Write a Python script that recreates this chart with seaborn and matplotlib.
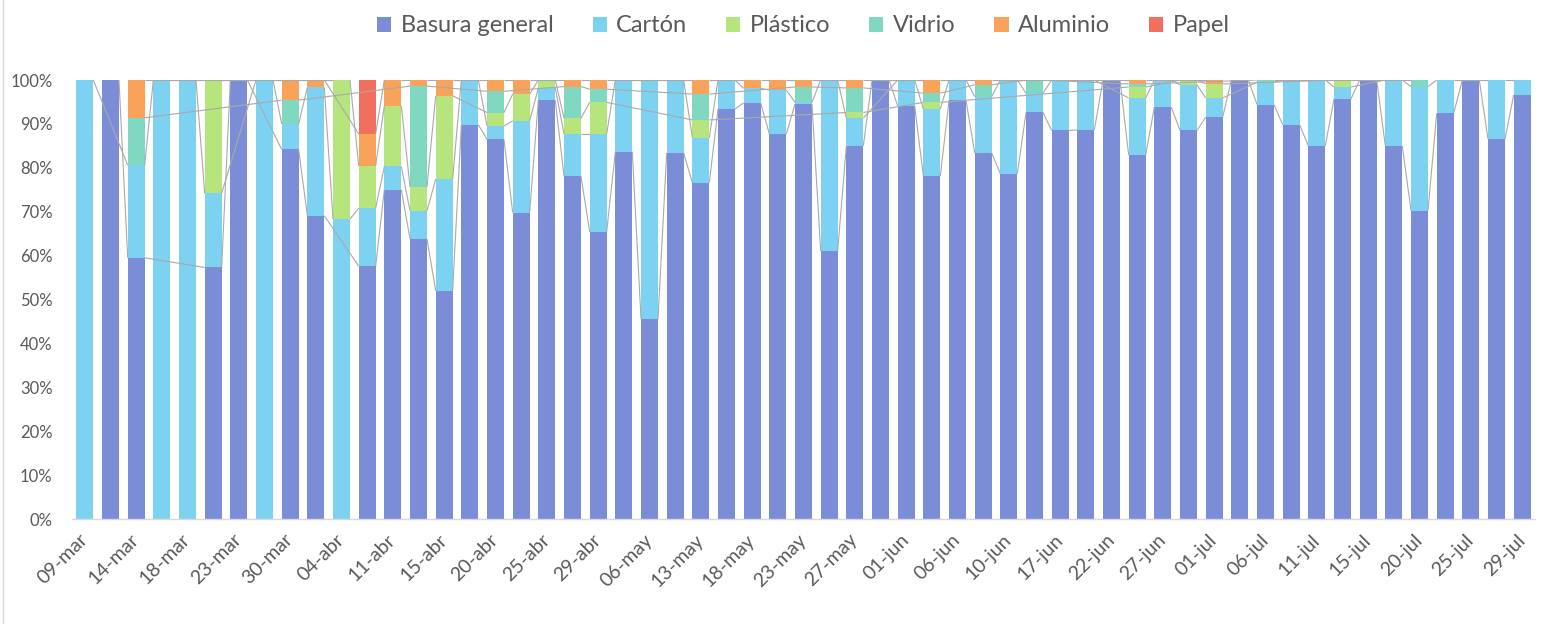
import numpy as np
import pandas as pd
import matplotlib
matplotlib.use("Agg")
import matplotlib.pyplot as plt
import seaborn as sns
from matplotlib.patches import Patch
from matplotlib.lines import Line2D

# ---------------- data (percent of total per collection) ----------------
series_names = ["Basura general", "Cartón", "Plástico", "Vidrio", "Aluminio", "Papel"]

basura = [0, 100, 59.5, 0, 0, 57.3, 100, 0, 84.2, 69.1,
          0, 57.6, 75.0, 63.8, 52.0, 89.8, 87.5, 69.8, 95.4, 78.1,
          65.4, 83.7, 45.5, 83.4, 76.6, 93.4, 94.8, 87.7, 94.9, 61.0,
          85.0, 100, 94.1, 78.1, 95.4, 83.4, 78.6, 92.6, 88.5, 88.6,
          100, 82.9, 93.8, 88.5, 91.5, 100, 94.4, 89.8, 85.0, 95.7,
          100, 85.0, 70.2, 92.4, 100, 86.5, 96.6]
carton = [100, 0, 21.1, 100, 100, 16.9, 0, 100, 5.8, 29.2,
          68.3, 13.2, 5.3, 6.4, 25.4, 10.2, 3.1, 20.9, 2.8, 9.6,
          22.3, 16.3, 54.5, 16.6, 10.3, 6.6, 3.3, 10.0, 0.4, 39.0,
          6.3, 0, 5.9, 15.3, 4.6, 12.8, 21.4, 4.4, 11.5, 11.4,
          0, 13.0, 6.2, 10.4, 4.4, 0, 5.1, 10.2, 15.0, 2.7,
          0, 15.0, 28.3, 7.6, 0, 13.5, 3.4]
plastico = [0, 0, 0, 0, 0, 25.8, 0, 0, 0, 0,
            31.7, 9.7, 13.8, 5.5, 19.0, 0, 3.1, 6.1, 1.8, 3.6,
            7.2, 0, 0, 0, 4.0, 0, 0, 0, 0, 0,
            1.3, 0, 0, 1.5, 0, 0, 0, 0, 0, 0,
            0, 2.5, 0, 1.1, 3.2, 0, 0, 0, 0, 1.6,
            0, 0, 0, 0, 0, 0, 0]
vidrio = [0, 0, 10.8, 0, 0, 0, 0, 0, 5.4, 0,
          0, 0, 0, 22.9, 0, 0, 4.9, 0, 0, 7.2,
          3.0, 0, 0, 0, 5.9, 0, 0, 0, 3.5, 0,
          5.6, 0, 0, 2.1, 0, 2.7, 0, 3.0, 0, 0,
          0, 0.7, 0, 0, 0, 0, 0.5, 0, 0, 0,
          0, 0, 1.5, 0, 0, 0, 0]
aluminio = [0, 0, 8.6, 0, 0, 0, 0, 0, 4.6, 1.7,
            0, 7.2, 5.9, 1.4, 3.6, 0, 2.6, 3.2, 0, 1.5,
            2.1, 0, 0, 0, 3.2, 0, 1.9, 2.3, 1.6, 0,
            1.8, 0, 0, 3.0, 0, 1.1, 0, 0, 0, 0,
            0, 0.9, 0, 0, 0.9, 0, 0, 0, 0, 0,
            0, 0, 0, 0, 0, 0, 0]
papel = [0, 0, 0, 0, 0, 0, 0, 0, 0, 0,
         0, 12.3, 0, 0, 0, 0, 0, 0, 0, 0,
         0, 0, 0, 0, 0, 0, 0, 0, 0, 0,
         0, 0, 0, 0, 0, 0, 0, 0, 0, 0,
         0, 0, 0, 0, 0, 0, 0, 0, 0, 0,
         0, 0, 0, 0, 0, 0, 0]

tick_labels = ["09-mar", "14-mar", "18-mar", "23-mar", "30-mar", "04-abr", "11-abr",
               "15-abr", "20-abr", "25-abr", "29-abr", "06-may", "13-may", "18-may",
               "23-may", "27-may", "01-jun", "06-jun", "10-jun", "17-jun", "22-jun",
               "27-jun", "01-jul", "06-jul", "11-jul", "15-jul", "20-jul", "25-jul",
               "29-jul"]

colors = ["#7B8DD7", "#7DD2F1", "#B6E57D", "#7FD8BF", "#F9A25A", "#F16F5C"]

# ---------------- prepare ----------------
vals = np.array([basura, carton, plastico, vidrio, aluminio, papel], dtype=float)
vals = vals / vals.sum(axis=0) * 100.0
cum = np.cumsum(vals, axis=0)
n = vals.shape[1]
idx = np.arange(n)
bar_w = 0.66

sns.set_theme(style="white")
plt.rcParams["font.family"] = ["Lato", "DejaVu Sans"]

fig = plt.figure(figsize=(15.46, 6.24), dpi=100)
ax = fig.add_axes([72 / 1546, 1 - 519 / 624, (1535 - 72) / 1546, (519 - 80) / 624])

df = pd.DataFrame({"idx": idx})
for k in range(len(series_names) - 1, -1, -1):
    df["cum"] = cum[k]
    sns.barplot(data=df, x="idx", y="cum", color=colors[k], width=bar_w,
                saturation=1, linewidth=0, errorbar=None, ax=ax, zorder=2)

# series lines (Excel style, blanks skipped)
for k in range(len(series_names)):
    nz = np.where(vals[k] > 0)[0]
    for a, b in zip(nz[:-1], nz[1:]):
        ax.plot([a + bar_w / 2, b - bar_w / 2], [cum[k][a], cum[k][b]],
                color="#A9A9A9", lw=0.8, zorder=3, solid_capstyle="butt")

ax.set_xlim(-0.5, n - 0.5)
ax.set_ylim(0, 100)
ax.set_yticks(np.arange(0, 101, 10))
ax.set_yticklabels([f"{v}%" for v in range(0, 101, 10)], fontsize=12, color="#595959")
ax.set_xticks(np.arange(0, n, 2)[:len(tick_labels)])
ax.set_xticklabels(tick_labels, rotation=45, ha="right", va="center",
                   rotation_mode="anchor", fontsize=14, color="#595959")
ax.tick_params(axis="both", length=0)
ax.tick_params(axis="x", pad=13)
ax.tick_params(axis="y", pad=14)
ax.set_xlabel("")
ax.set_ylabel("")
for s in ["top", "right", "left"]:
    ax.spines[s].set_visible(False)
ax.spines["bottom"].set_color("#D9D9D9")
ax.spines["bottom"].set_linewidth(1.0)
ax.spines["bottom"].set_zorder(4)

handles = [Patch(facecolor=c, edgecolor="none") for c in colors]
ax.legend(handles, series_names, loc="center", bbox_to_anchor=(0.5, 1 + 54 / 439),
          ncol=6, frameon=False, fontsize=17, handlelength=0.6, handleheight=0.6,
          handletextpad=0.4, columnspacing=1.65, labelcolor="#595959")

fig.add_artist(Line2D([3 / 1546, 3 / 1546], [0, 1], color="#D9D9D9", lw=1))

fig.savefig("out.png", dpi=100, facecolor="white")
